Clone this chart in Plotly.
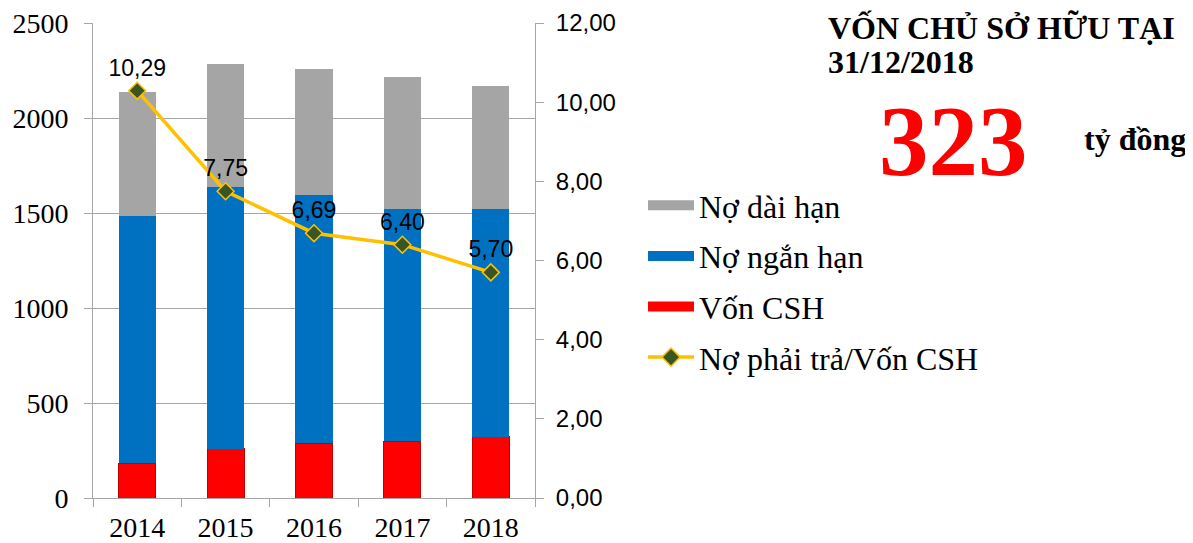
import plotly.graph_objects as go

years = ["2014", "2015", "2016", "2017", "2018"]
von_csh = [184, 258, 289, 300, 323]
no_ngan_han = [1300, 1379, 1306, 1221, 1198]
no_dai_han = [653, 647, 663, 695, 647]
ratio = [10.29, 7.75, 6.69, 6.40, 5.70]
ratio_labels = [f"{v:.2f}".replace(".", ",") for v in ratio]

C_GRAY = "#A5A5A5"
C_BLUE = "#0070C0"
C_RED = "#FF0000"
C_YEL = "#FFC000"
C_GRN = "#375623"

SERIF = "Liberation Serif, Times New Roman, serif"
SANS = "Liberation Sans, Arial, sans-serif"

fig = go.Figure()
fig.add_trace(go.Bar(x=years, y=von_csh, name="Vốn CSH", marker=dict(color=C_RED, line=dict(color="#C00000", width=1)),
                     showlegend=False))
fig.add_trace(go.Bar(x=years, y=no_ngan_han, name="Nợ ngắn hạn", marker=dict(color=C_BLUE, line=dict(width=0)),
                     showlegend=False))
fig.add_trace(go.Bar(x=years, y=no_dai_han, name="Nợ dài hạn", marker=dict(color=C_GRAY, line=dict(width=0)),
                     showlegend=False))
fig.add_trace(go.Scatter(x=years, y=ratio, yaxis="y2", mode="lines+markers+text", name="Nợ phải trả/Vốn CSH",
                         line=dict(color=C_YEL, width=3.5),
                         marker=dict(symbol="diamond", size=13, color=C_GRN, line=dict(color=C_YEL, width=1.5)),
                         text=ratio_labels, textposition="top center",
                         textfont=dict(family=SANS, size=23, color="black"),
                         showlegend=False))

# legend entries
for i, (nm, col) in enumerate([("Nợ dài hạn", C_GRAY), ("Nợ ngắn hạn", C_BLUE), ("Vốn CSH", C_RED)]):
    fig.add_trace(go.Scatter(x=[None], y=[None], mode="lines", name=nm, line=dict(color=col, width=15),
                             legendgroup=f"g{i}", legendrank=i + 1))
fig.add_trace(go.Scatter(x=[None], y=[None], mode="lines+markers", name="Nợ phải trả/Vốn CSH",
                         line=dict(color=C_YEL, width=3.5),
                         marker=dict(symbol="diamond", size=14, color=C_GRN, line=dict(color=C_YEL, width=1.5)),
                         legendgroup="g3", legendrank=4))

# screen-pixel geometry (page has an 8px body margin)
OFF = 8
L, R = 93, 535
T, B = 23, 498
FW, FH = 1193 - OFF, 543 - OFF
W = R - L
H = B - T
def px(p):
    return (p - L) / W
def py(p):
    return (B - p) / H

fig.update_layout(
    width=FW, height=FH,
    margin=dict(l=L - OFF, r=FW - (R - OFF), t=T - OFF, b=FH - (B - OFF), autoexpand=False),
    paper_bgcolor="white", plot_bgcolor="white",
    barmode="stack", bargap=0.58,
    separators=",.",
    showlegend=True,
    legend=dict(x=px(643), y=py(178), xanchor="left", yanchor="top",
                font=dict(family=SERIF, size=32, color="black"),
                tracegroupgap=6, traceorder="grouped", itemwidth=46,
                bgcolor="rgba(0,0,0,0)"),
    xaxis=dict(type="category", showline=True, linecolor="#A6A6A6", linewidth=1,
               ticks="outside", ticklen=8, tickcolor="#A6A6A6", tickson="boundaries",
               ticklabelstandoff=4,
               tickfont=dict(family=SERIF, size=28, color="black"), showgrid=False),
    yaxis=dict(range=[0, 2500], dtick=500, tickformat="d", showline=True, linecolor="#A6A6A6",
               ticks="outside", ticklen=8, tickcolor="#A6A6A6", ticklabelstandoff=10,
               ticklabeloverflow="allow",
               showgrid=True, gridcolor="#A6A6A6", gridwidth=1, zeroline=False,
               tickfont=dict(family=SERIF, size=28, color="black")),
    yaxis2=dict(range=[0, 12], dtick=2, tickformat=".2f", overlaying="y", side="right",
                showline=True, linecolor="#A6A6A6", ticks="outside", ticklen=8, tickcolor="#A6A6A6",
                ticklabelstandoff=7, ticklabeloverflow="allow",
                showgrid=False, zeroline=False,
                tickfont=dict(family=SANS, size=24, color="black")),
    annotations=[
        dict(text="<b>VỐN CHỦ SỞ HỮU TẠI</b>", x=px(826), y=py(28), xref="paper", yref="paper",
             xanchor="left", yanchor="middle", showarrow=False,
             font=dict(family=SERIF, size=32, color="black")),
        dict(text="<b>31/12/2018</b>", x=px(826), y=py(62), xref="paper", yref="paper",
             xanchor="left", yanchor="middle", showarrow=False,
             font=dict(family=SERIF, size=32, color="black")),
        dict(text="<b>323</b>", x=px(953), y=py(140), xref="paper", yref="paper",
             xanchor="center", yanchor="middle", showarrow=False,
             font=dict(family=SERIF, size=99, color=C_RED)),
        dict(text="<b>tỷ đồng</b>", x=px(1082), y=py(139), xref="paper", yref="paper",
             xanchor="left", yanchor="middle", showarrow=False,
             font=dict(family=SERIF, size=32, color="black")),
    ],
)

fig.write_html("out.html")
